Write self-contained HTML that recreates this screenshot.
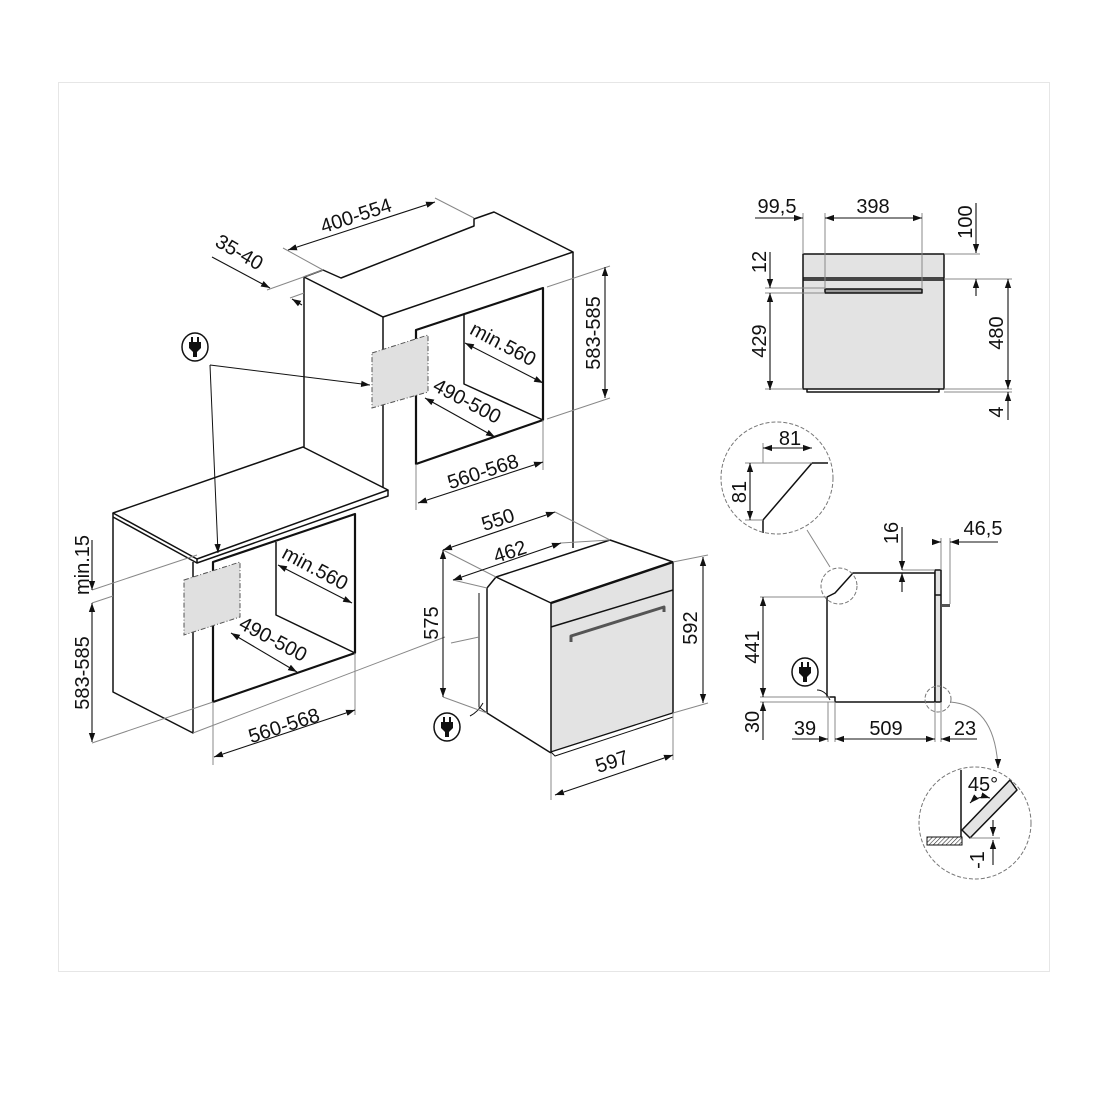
<!DOCTYPE html>
<html><head><meta charset="utf-8"><style>
html,body{margin:0;padding:0;background:#fff;}
svg{display:block;}
text{font-family:"Liberation Sans",sans-serif;font-size:20px;fill:#111;}
</style></head><body>
<svg width="1100" height="1100" viewBox="0 0 1100 1100" xmlns="http://www.w3.org/2000/svg">
<defs>
<marker id="a" viewBox="0 0 10 10" refX="10" refY="5" markerWidth="9" markerHeight="9" markerUnits="userSpaceOnUse" orient="auto-start-reverse"><path d="M0,1.5L10,5L0,8.5z" fill="#111"/></marker>
<g id="plug"><ellipse cx="0" cy="0" rx="13" ry="14" fill="#fff" stroke="#111" stroke-width="1.5"/><rect x="-4" y="-10" width="2" height="5" fill="#111"/><rect x="2" y="-10" width="2" height="5" fill="#111"/><path d="M-6,-5H6V1L2,5V10H-2V5L-6,1Z" fill="#111"/></g>
<pattern id="h" width="3" height="3" patternUnits="userSpaceOnUse" patternTransform="rotate(45)"><rect width="3" height="3" fill="#fff"/><line x1="0" y1="0" x2="0" y2="3" stroke="#333" stroke-width="1.2"/></pattern>
</defs>
<rect x="58.5" y="82.5" width="991" height="889" fill="none" stroke="#e6e6e6"/>

<g fill="none" stroke="#111" stroke-width="1.5" stroke-linejoin="round">
<path d="M304,277L323,270L341,278L474,226L474,219L494,212L573,252L383,317L304,277Z" fill="#fff"/>
<path d="M304,277V450M383,317V490M573,252V548"/>
<path d="M416,330L543,288L543,420L416,464Z" stroke-width="2.2"/>
<path d="M464,315V384L543,420"/>
<path d="M113,513L303,447L388,490L197,559Z" fill="#fff"/>
<path d="M388,490V496L197,563V559M113,513V517"/>
<path d="M113,517V692L193,733V562M113,517L197,563"/>
<path d="M213,562L355,514L355,653L213,702Z" stroke-width="2.2"/>
<path d="M276,542V615L355,653"/>
<path d="M496,577L610,540L673,562L551,603Z" fill="#fff"/>
<path d="M496,577L487,588V713L551,753"/>
<path d="M479,593V707L487,713" stroke-width="1"/>
<path d="M551,603L673,562V713L551,752Z" fill="#e3e3e3"/>
<path d="M551,627L673,590"/>
<path d="M551,603L673,562" stroke-width="2.5"/>
<path d="M571,642V636L664,607V612M571,636L664,607" stroke-width="3" stroke="#555"/>
<path d="M551,752L673,713V717L555,756Z" fill="#fff" stroke-width="1"/>
<path d="M483,703Q478,712 470,716" stroke-width="1"/>
<rect x="803" y="254" width="141" height="135" fill="#e3e3e3"/>
<path d="M803,278H944M803,280H944"/>
<rect x="825" y="289" width="97" height="4" fill="#999"/>
<path d="M807,389V392H939V389"/>
<path d="M853,573H935V702H835V697L827,697V597L835,593Z" fill="#fff"/>
<rect x="935" y="570" width="6" height="132" fill="#e3e3e3"/>
<path d="M935,595H941"/>
<rect x="942" y="604" width="8" height="3" fill="#555" stroke="none"/>
<path d="M817,690Q825,690 830,700" stroke-width="1"/>
<path d="M763,533V520L812,463H828"/>
<path d="M961,770V837"/>
<path d="M962,830L1010,780L1017,790L970,838Z" fill="#e3e3e3"/>
</g>
<rect x="927" y="837" width="35" height="8" fill="url(#h)" stroke="#111" stroke-width="1"/>

<path d="M372,353L428,335V392L372,408Z" fill="#e0e0e0" stroke="#555" stroke-dasharray="5,2,1,2"/>
<path d="M184,580L240,562V617L184,635Z" fill="#e0e0e0" stroke="#555" stroke-dasharray="5,2,1,2"/>

<g fill="none" stroke="#777" stroke-dasharray="4,2" stroke-width="1">
<circle cx="777" cy="478" r="56"/><circle cx="975" cy="823" r="56"/>
<circle cx="839" cy="586" r="18"/><circle cx="938" cy="699" r="13"/>
</g>

<g stroke="#888" stroke-width="1" fill="none">
<path d="M283,248L323,270M435,198L474,218M267,290L323,270M290,298L304,293M547,287L610,266M547,419L610,398"/>
<path d="M416,464V510M543,420V470"/>
<path d="M92,590L197,555M92,603L113,596M92,743L213,702M213,702V765M355,653V715"/>
<path d="M193,733L445,637M451,643L479,637"/>
<path d="M443,550L496,577M555,512L610,540M453,580L487,588M561,543L610,540M673,562L708,555M673,713L708,703M443,697L487,713M551,753V800M673,713V760"/>
<path d="M803,213V254M825,213V289M922,213V289M944,254H980M944,279H1012M944,389H1012M944,392H1012M765,288H825M765,293H825M765,389H803"/>
<path d="M763,443V463M745,463H812M745,520H763"/>
<path d="M902,570H935M941,538V570M950,538V604M760,597H827M760,697H830M760,702H835M828,702V742M835,702V742M935,702V742M941,702V742"/>
<path d="M830,567L807,530M950,702Q995,705 998,768"/>
<path d="M970,838H1000"/>
</g>

<g stroke="#111" stroke-width="1" fill="none">
<path d="M210,365L370,385" marker-end="url(#a)"/>
<path d="M210,365L218,553" marker-end="url(#a)"/>
</g>

<g stroke="#111" stroke-width="1.1" fill="none" marker-start="url(#a)" marker-end="url(#a)">
<path d="M288,250L435,202"/>
<path d="M465,343L543,383"/><path d="M425,398L495,437"/><path d="M418,503L543,462"/>
<path d="M605,267V398"/>
<path d="M278,565L352,603"/><path d="M231,633L297,672"/><path d="M214,757L355,710"/>
<path d="M92,603V742"/>
<path d="M443,550L555,512"/><path d="M453,580L561,543"/>
<path d="M443,550V697"/><path d="M703,557V703"/><path d="M555,795L673,755"/>
<path d="M825,218H922"/>
<path d="M1008,279V389"/><path d="M770,293V390"/>
<path d="M763,448H812"/><path d="M750,463V520"/>
<path d="M763,597V697"/><path d="M835,739H935"/>
</g>
<g stroke="#111" stroke-width="1.1" fill="none" marker-end="url(#a)">
<path d="M212,257L270,288"/>
<path d="M302,305L292,299"/>
<path d="M755,218H803"/>
<path d="M976,203V253"/><path d="M976,296V279"/>
<path d="M770,252V288"/>
<path d="M1008,420V392"/>
<path d="M92,540V590"/>
<path d="M902,527V570"/><path d="M902,592V573"/>
<path d="M932,542H941"/><path d="M998,542H950"/>
<path d="M763,740V702"/>
<path d="M792,739H828"/><path d="M977,739H941"/>
<path d="M993,820V836"/><path d="M993,865V840"/>
<path d="M998,760V768"/>
</g>
<path d="M970,803A20,20 0 0 1 990,798" stroke="#111" fill="none" marker-start="url(#a)" marker-end="url(#a)"/>

<use href="#plug" x="195" y="347"/>
<use href="#plug" x="447" y="727"/>
<use href="#plug" x="805" y="672"/>

<g text-anchor="middle">
<text transform="translate(358,222) rotate(-18)">400-554</text>
<text transform="translate(236,258) rotate(30)">35-40</text>
<text transform="translate(600,333) rotate(-90)">583-585</text>
<text transform="translate(500,350) rotate(28)">min.560</text>
<text transform="translate(464,407) rotate(28)">490-500</text>
<text transform="translate(485,478) rotate(-18)">560-568</text>
<text transform="translate(89,565) rotate(-90)">min.15</text>
<text transform="translate(89,673) rotate(-90)">583-585</text>
<text transform="translate(312,574) rotate(28)">min.560</text>
<text transform="translate(270,645) rotate(28)">490-500</text>
<text transform="translate(286,732) rotate(-18)">560-568</text>
<text transform="translate(500,526) rotate(-18)">550</text>
<text transform="translate(512,558) rotate(-18)">462</text>
<text transform="translate(438,623) rotate(-90)">575</text>
<text transform="translate(697,628) rotate(-90)">592</text>
<text transform="translate(614,768) rotate(-18)">597</text>
<text x="777" y="213">99,5</text>
<text x="873" y="213">398</text>
<text transform="translate(972,222) rotate(-90)">100</text>
<text transform="translate(766,262) rotate(-90)">12</text>
<text transform="translate(766,341) rotate(-90)">429</text>
<text transform="translate(1003,333) rotate(-90)">480</text>
<text transform="translate(1003,412) rotate(-90)">4</text>
<text x="790" y="445">81</text>
<text transform="translate(746,492) rotate(-90)">81</text>
<text transform="translate(898,533) rotate(-90)">16</text>
<text x="983" y="535">46,5</text>
<text transform="translate(759,647) rotate(-90)">441</text>
<text transform="translate(759,722) rotate(-90)">30</text>
<text x="805" y="735">39</text>
<text x="886" y="735">509</text>
<text x="965" y="735">23</text>
<text x="983" y="791">45°</text>
<text transform="translate(984,860) rotate(-90)">-1</text>
</g>
</svg>
</body></html>
